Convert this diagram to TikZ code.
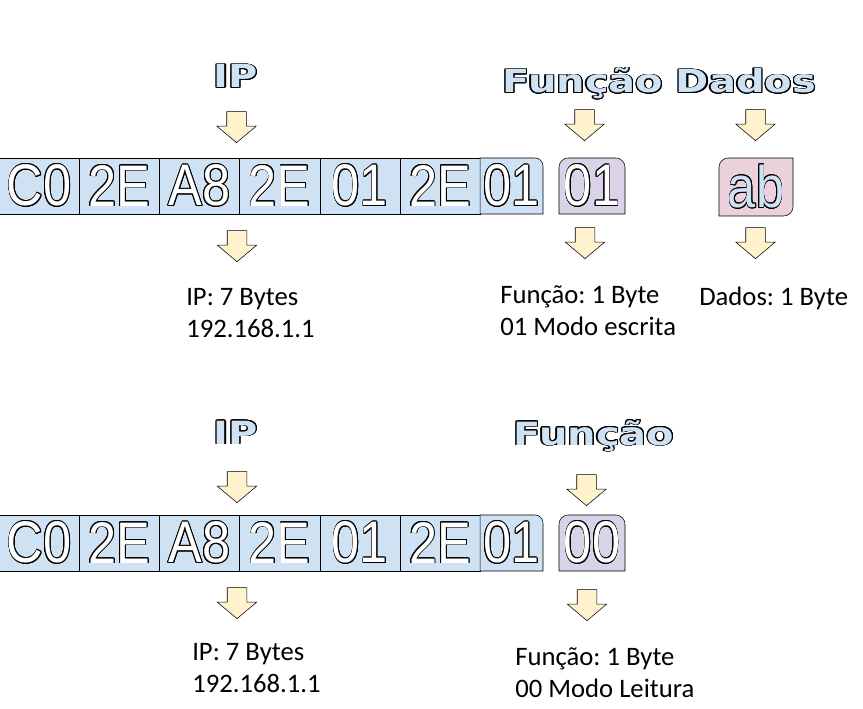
\documentclass[tikz,border=0pt]{standalone}
\usepackage{fontspec}
\usepackage{graphicx}
\usepackage{contour}
\usetikzlibrary{shapes.arrows}
\setmainfont{Carlito}
\newfontfamily\cellfont{Liberation Sans}
\newfontfamily\titlefont{DejaVu Sans}
\definecolor{cellblue}{HTML}{CFE2F3}
\definecolor{funcpurple}{HTML}{D9D2E9}
\definecolor{datapink}{HTML}{EAD1DC}
\definecolor{arrowyellow}{HTML}{FFF2CC}
\frenchspacing
\contourlength{0.7pt}
\contournumber{16}
% outlined letters: fill colour, black rim
\newcommand{\hollow}[2]{\contour{black}{\textcolor{#1}{#2}}}
\newcommand{\hexbyte}[2][white]{\scalebox{0.86}[1]{\hollow{#1}{#2}}}
\newcommand{\wordart}[1]{\scalebox{1.25}[1]{\hollow{cellblue}{\titlefont\bfseries #1}}}
\begin{document}
\begin{tikzpicture}[x=0.75pt,y=-0.75pt,
  cell/.style={draw,fill=cellblue,minimum width=60.15pt,minimum height=42pt,inner sep=0pt},
  hexfont/.style={font=\cellfont\fontsize{44pt}{44pt}\selectfont},
  pointer/.style={single arrow,draw,fill=arrowyellow,shape border rotate=270,
    minimum height=23.25pt,inner sep=7.125pt,single arrow head extend=7.5pt,
    single arrow tip angle=100,anchor=tip},
  heading/.style={anchor=base,inner sep=0pt,font=\fontsize{24pt}{26pt}\selectfont},
  info/.style={align=left,anchor=north west,inner sep=0pt,font=\fontsize{20pt}{24pt}\selectfont}
]
\useasboundingbox (0,0) rectangle (863,709);

%% ---- escrita ----
\node[heading] (ipA) at (236,88) {\wordart{IP}};
\node[heading] (funcA) at (583,93) {\wordart{Função}};
\node[heading] (dataA) at (746,93) {\wordart{Dados}};
\node[pointer] (ipAin) at (236.5,143) {};
\node[pointer] (funcAin) at (584.5,141) {};
\node[pointer] (dataAin) at (755.5,141) {};
% bytes
\foreach \hx [count=\i] in {C0,2E,A8,2E,01,2E}
  \node[cell,hexfont] (topA\i) at ({39.1+80.2*(\i-1)},186) {\hexbyte{\hx}};
\draw[fill=cellblue] (480.2,214) -- (480.2,158) -- (511,158) [rounded corners=6] -- (543,158) -- (543,186) [sharp corners] -- (543,214) -- cycle;
\node[hexfont,inner sep=0pt] (topA7) at (511.6,186) {\hexbyte{01}};
\draw[fill=funcpurple] (559,214) -- (559,186) [rounded corners=7] -- (559,158) -- (625,158) -- (625,186) [sharp corners] -- (625,214) -- cycle;
\node[hexfont,inner sep=0pt] (funcAbyte) at (592,186) {\hexbyte{01}};
\draw[fill=datapink] (719,216) -- (719,187) [rounded corners=7] -- (719,158) -- (756,158) [sharp corners] -- (793,158) -- (793,187) [rounded corners=7] -- (793,216) -- (756,216) [sharp corners] -- cycle;
\node[hexfont,inner sep=0pt] (dataAbyte) at (756,187) {\hexbyte[cellblue]{ab}};
\node[pointer] (ipAout) at (237,262) {};
\node[pointer] (funcAout) at (585,259) {};
\node[pointer] (dataAout) at (755.5,259) {};
\node[info] (ipAtxt) at (186,283) {\strut IP: 7 Bytes\\192.168.1.1};
\node[info] (funcAtxt) at (500,281) {\strut Função: 1 Byte\\01 Modo escrita};
\node[info] (dataAtxt) at (699,283) {\strut Dados: 1 Byte};

%% ---- leitura ----
\node[heading] (ipB) at (236,444) {\wordart{IP}};
\node[heading] (funcB) at (594,445) {\wordart{Função}};
\node[pointer] (ipBin) at (237,503) {};
\node[pointer] (funcBin) at (586.5,506) {};
\foreach \hx [count=\i] in {C0,2E,A8,2E,01,2E}
  \node[cell,hexfont] (topB\i) at ({39.1+80.2*(\i-1)},543) {\hexbyte{\hx}};
\draw[fill=cellblue] (480.2,571) -- (480.2,515) -- (511,515) [rounded corners=6] -- (543,515) -- (543,543) [sharp corners] -- (543,571) -- cycle;
\node[hexfont,inner sep=0pt] (topB7) at (511.6,543) {\hexbyte{01}};
\draw[fill=funcpurple] (559,571) -- (559,543) [rounded corners=7] -- (559,515) -- (625,515) -- (625,543) [sharp corners] -- (625,571) -- cycle;
\node[hexfont,inner sep=0pt] (funcBbyte) at (592,543) {\hexbyte{00}};
\node[pointer] (ipBout) at (237,619) {};
\node[pointer] (funcBout) at (587,621) {};
\node[info] (ipBtxt) at (192,638) {\strut IP: 7 Bytes\\192.168.1.1};
\node[info] (funcBtxt) at (515,643) {\strut Função: 1 Byte\\00 Modo Leitura};
\end{tikzpicture}
\end{document}
